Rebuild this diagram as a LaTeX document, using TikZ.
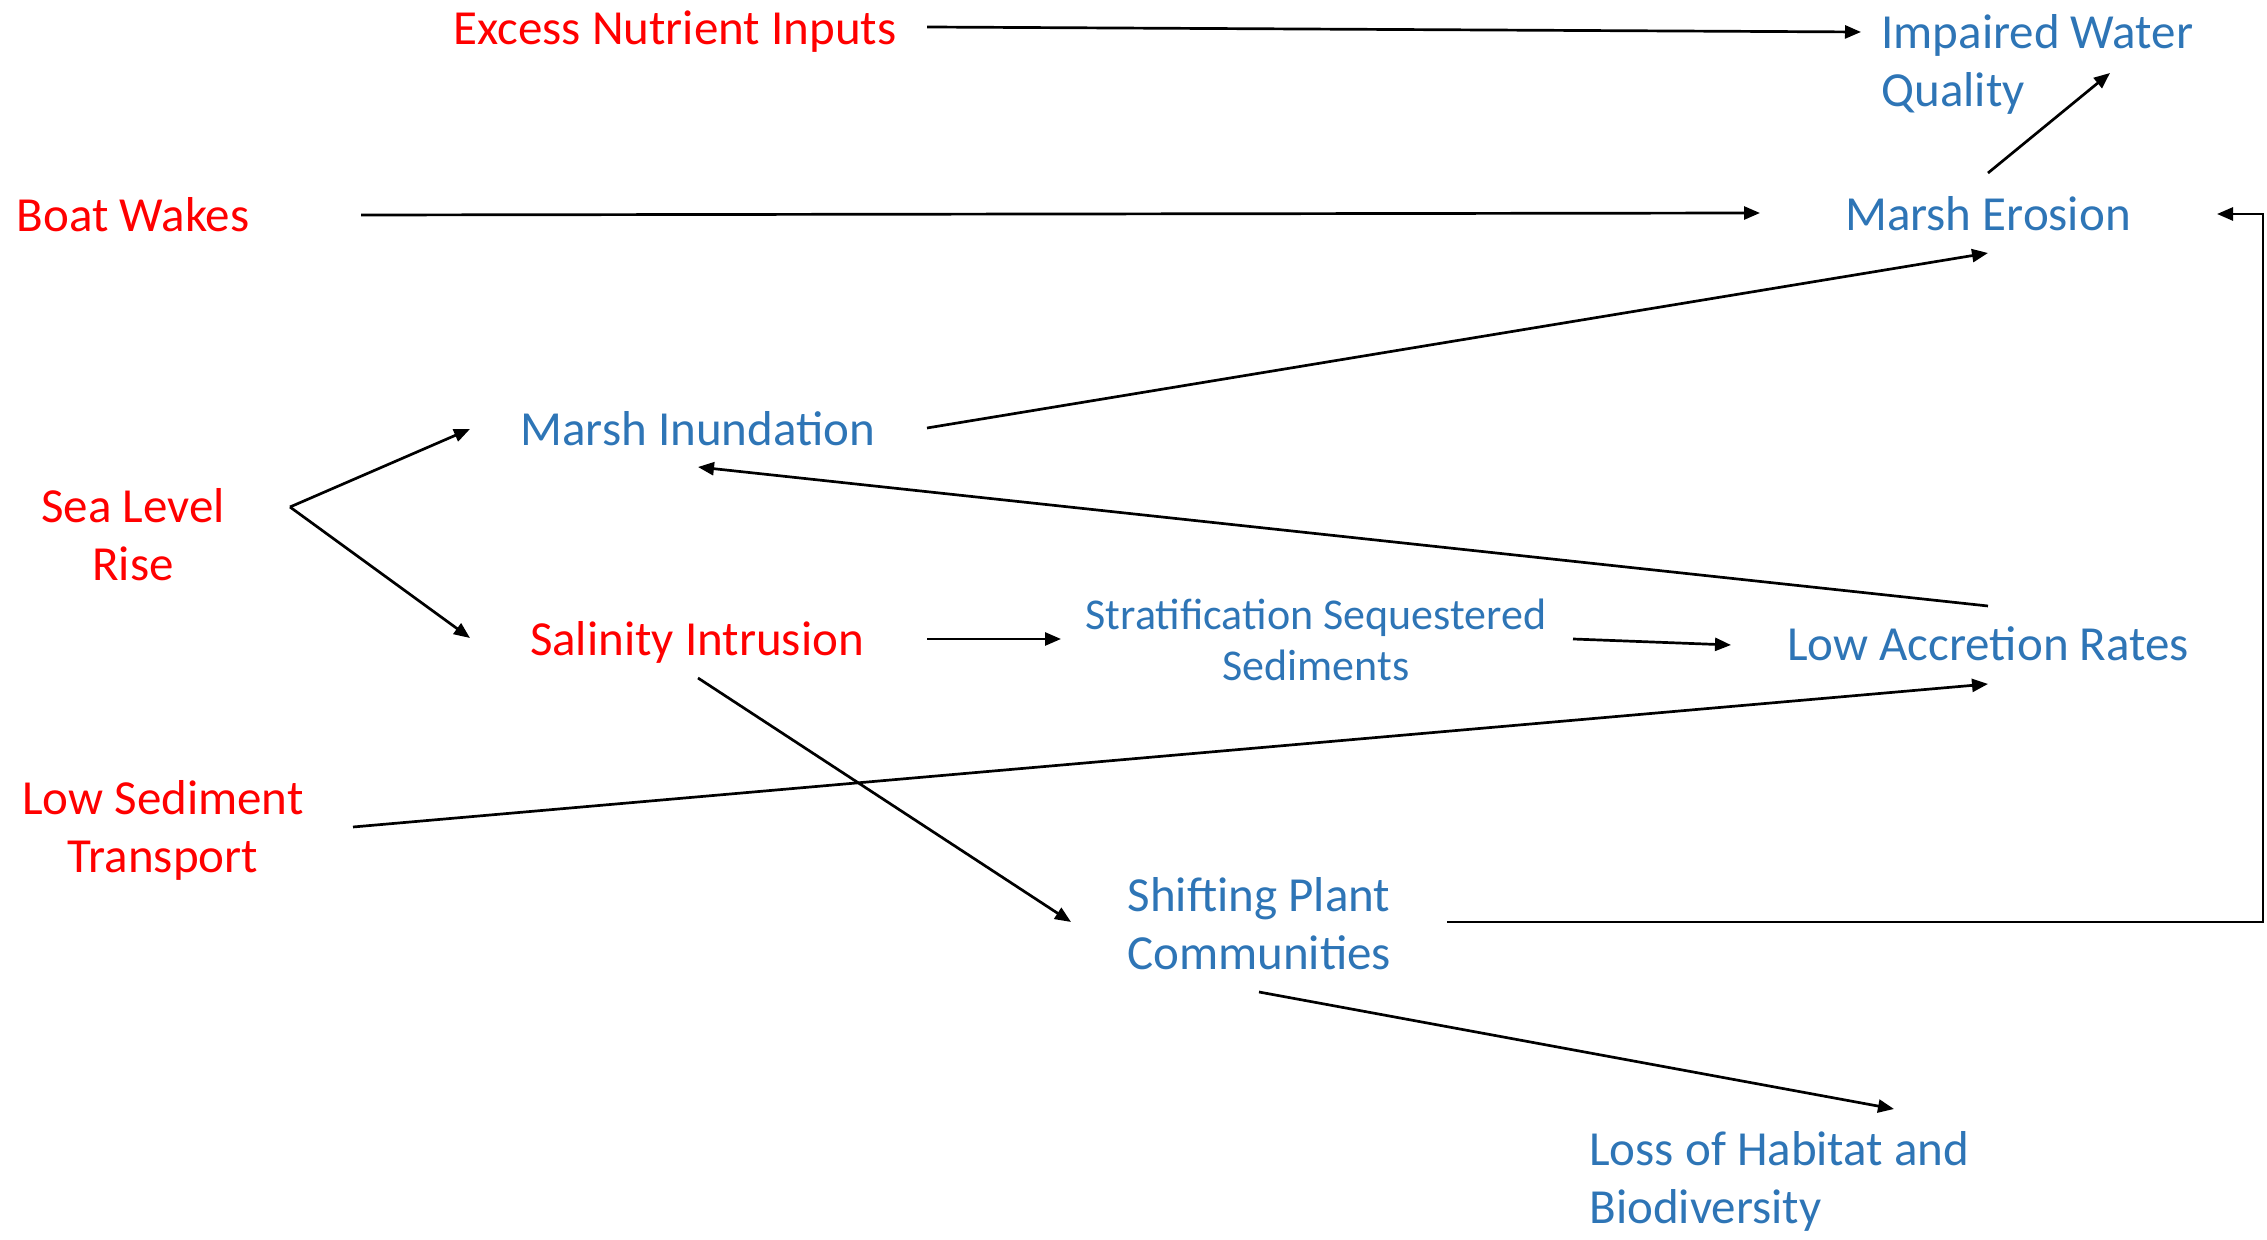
\documentclass[tikz,border=0pt]{standalone}
\usepackage{fontspec}
\setmainfont{Carlito}
\usetikzlibrary{arrows.meta,calc}
\definecolor{cred}{HTML}{FF0000}
\definecolor{cblue}{HTML}{2E75B6}
\begin{document}
\begin{tikzpicture}[x=0.5pt,y=-0.5pt,
  lbl/.style={inner sep=0pt,align=center,font=\fontsize{24.5}{29}\selectfont},
  cause/.style={lbl,text=cred},
  effect/.style={lbl,text=cblue},
  arr/.style={line width=1.35pt,-{Triangle[length=8pt,width=6.5pt]}}]
\useasboundingbox (0,0) rectangle (2267,1240);
% nodes
\node[cause] (exc) at (675,32) {Excess Nutrient Inputs};
\node[effect,anchor=west,align=left] (imp) at (1881,64) {Impaired Water\\Quality};
\node[cause] (bw) at (133,215) {Boat Wakes};
\node[effect] (me) at (1988,214) {Marsh Erosion};
\node[effect] (mi) at (698,429) {Marsh Inundation};
\node[cause] (slr) at (133,535) {Sea Level\\Rise};
\node[cause] (si) at (697,642) {Salinity Intrusion};
\node[effect,font=\fontsize{22}{25.3}\selectfont] (ss) at (1316,640) {Stratification Sequestered\\Sediments};
\node[effect] (la) at (1988,644) {Low Accretion Rates};
\node[cause] (lst) at (163,830) {Low Sediment\\Transport};
\node[effect] (sp) at (1259,924) {Shifting Plant\\Communities};
\node[effect,anchor=west,align=left] (loss) at (1589,1181) {Loss of Habitat and\\Biodiversity};
% connectors
\draw[arr] ($(exc)+(252,-5)$) -- ($(imp.west)+(-20,-32)$);
\draw[arr] ($(bw)+(228,0)$) -- ($(me)+(-228,-1)$);
\draw[arr] ($(me)+(0,-41)$) -- ($(imp.west)+(229,9)$);
\draw[arr] ($(mi)+(229,-1)$) -- ($(me)+(0,39)$);
\coordinate (v) at ($(slr)+(157,-28)$);
\draw[arr] (v) -- ($(mi)+(-228,0)$);
\draw[arr] (v) -- ($(si)+(-227,-4)$);
\draw[arr] ($(la)+(0,-38)$) -- ($(mi)+(0,38)$);
\draw[arr] ($(si)+(230,-3)$) -- ($(ss)+(-255,-1)$);
\draw[arr] ($(ss)+(257,-1)$) -- ($(la)+(-257,1)$);
\draw[arr] ($(lst)+(190,-3)$) -- ($(la)+(0,40)$);
\draw[arr] ($(si)+(1,36)$) -- ($(sp)+(-188,-2)$);
\draw[arr] ($(sp)+(188,-2)$) -| ($(me)+(275,0)$) -- ($(me)+(229,0)$);
\draw[arr] ($(sp)+(0,68)$) -- ($(loss.west)+(305,-72)$);
\end{tikzpicture}
\end{document}
